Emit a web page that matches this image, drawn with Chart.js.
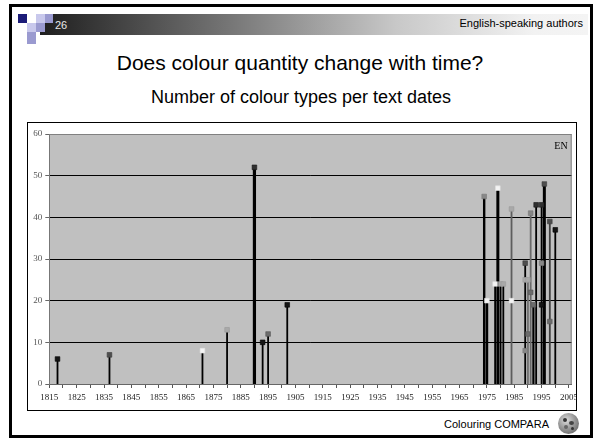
<!DOCTYPE html>
<html><head><meta charset="utf-8">
<script src="https://cdn.jsdelivr.net/npm/chart.js@4.4.1/dist/chart.umd.min.js"></script>
<style>
html,body{margin:0;padding:0;background:#fff;width:597px;height:442px;overflow:hidden;font-family:"Liberation Sans",Arial,sans-serif;}
.abs{position:absolute;}
#frame{left:9px;top:4px;width:578px;height:428px;border:3px solid #000;}
#bar{left:40px;top:14px;width:548px;height:21px;background:linear-gradient(to right,#1e1e1e 0%,#777 35%,#c8c8c8 65%,#f2f2f2 90%,#f4f4f4 100%);}
.sq{position:absolute;width:9px;height:9px;}
#num{left:55px;top:20px;font-size:11px;color:#e8e8e8;line-height:11px;}
#auth{right:14px;top:18px;font-size:11px;color:#000;line-height:11px;}
#title{left:0;width:600px;top:52px;text-align:center;font-size:21px;line-height:21px;color:#000;}
#sub{left:0;width:602px;top:88px;text-align:center;font-size:18px;line-height:18px;color:#000;}
#box{left:27px;top:122px;width:548px;height:287px;border:1px solid #000;background:#fff;}
#foot{right:48px;top:419px;font-size:11px;line-height:11px;color:#000;}
#logo{left:558px;top:413px;width:21px;height:21px;border-radius:50%;background:radial-gradient(circle at 40% 35%,#ddd 0%,#999 45%,#555 100%);}
.dot{position:absolute;border-radius:50%;background:#333;}
</style></head>
<body>
<div id="frame" class="abs"></div>
<div id="bar" class="abs"></div>
<div class="sq" style="left:18px;top:14px;background:#1b1b78"></div>
<div class="sq" style="left:36px;top:14px;background:#c8c8ec"></div>
<div class="sq" style="left:45px;top:14px;width:8px;background:#9a9ad0"></div>
<div class="sq" style="left:27px;top:23px;background:#c8c8ec"></div>
<div class="sq" style="left:36px;top:23px;background:#9a9ad0"></div>
<div class="sq" style="left:27px;top:32px;height:12px;background:#9a9ad0"></div>
<div id="num" class="abs">26</div>
<div id="auth" class="abs">English-speaking authors</div>
<div id="title" class="abs">Does colour quantity change with time?</div>
<div id="sub" class="abs">Number of colour types per text dates</div>
<div id="box" class="abs"><canvas id="c" width="548" height="287"></canvas></div>
<div id="foot" class="abs">Colouring COMPARA</div>
<div id="logo" class="abs">
  <div class="dot" style="left:5px;top:5px;width:4px;height:4px"></div>
  <div class="dot" style="left:11px;top:8px;width:5px;height:4px;background:#444"></div>
  <div class="dot" style="left:6px;top:12px;width:4px;height:4px;background:#666"></div>
  <div class="dot" style="left:13px;top:14px;width:3px;height:3px"></div>
</div>
<script>
// Text dates (x categories)
const years = [1818,1837,1871,1880,1890,1893,1895,1902,1974,1975,1978,1979,1980,1981,1984,1989,1990,1991,1992,1993,1995,1996,1998,2000];
// Number of colour types per text, one series per marker shade
const seriesBlack    = [6,null,null,null,null,10,null,19,null,null,null,null,null,null,null,null,null,null,null,null,19,null,null,37];
const seriesDark     = [null,null,null,null,52,null,null,null,null,null,null,null,null,null,null,null,null,null,null,43,43,null,null,null];
const seriesDarkGrey = [null,7,null,null,null,null,null,null,null,null,null,null,null,null,null,29,null,null,null,null,null,48,39,null];
const seriesGrey     = [null,null,null,null,null,null,12,null,null,null,null,null,null,null,null,null,12,22,19,null,null,null,15,null];
const seriesMidGrey  = [null,null,null,null,null,null,null,null,45,null,null,null,null,null,null,8,null,41,null,null,29,null,null,null];
const seriesLight    = [null,null,null,13,null,null,null,null,null,null,null,null,24,24,42,25,25,null,null,null,null,null,null,null];
const seriesWhite    = [null,null,8,null,null,null,null,null,null,20,24,47,null,null,20,null,null,null,null,null,null,null,null,null];
const yTicks = [0,10,20,30,40,50,60];

const seriesList = [
  {data:seriesBlack, fill:'#141414', edge:'#000'},
  {data:seriesDark, fill:'#303030', edge:'#1a1a1a'},
  {data:seriesDarkGrey, fill:'#4e4e4e', edge:'#3a3a3a'},
  {data:seriesGrey, fill:'#6c6c6c', edge:'#555'},
  {data:seriesMidGrey, fill:'#888', edge:'#777'},
  {data:seriesLight, fill:'#a9a9a9', edge:'#9a9a9a'},
  {data:seriesWhite, fill:'#f4f4f4', edge:'#e0e0e0'}
];
const stemWidth = {1890:3.2,1974:2.4,1975:2.6,1979:3,1996:3,1992:2.2};
const stemColor = {1984:'#5e5e5e',1990:'#707070',1991:'#6a6a6a',1998:'#404040'};

const datasets = [];
seriesList.forEach((s,k)=>{
  datasets.push({
    type:'scatter', order:0,
    data: years.map((yr,i)=> s.data[i]==null?null:{x:yr,y:s.data[i]}).filter(Boolean),
    pointStyle:'rect', pointRadius:3.3, pointHoverRadius:3.3,
    backgroundColor:s.fill, borderColor:s.edge, borderWidth:0.6
  });
});
years.forEach((yr,i)=>{
  const vals = seriesList.map(s=>s.data[i]).filter(v=>v!=null);
  const top = Math.max(...vals);
  datasets.push({
    type:'line', order:5,
    data:[{x:yr,y:0},{x:yr,y:top}],
    borderColor: stemColor[yr]||'#000',
    borderWidth: stemWidth[yr]||1.8,
    pointRadius:0, fill:false, tension:0
  });
});

const bgPlugin = {
  id:'plotbg',
  beforeDraw(chart){
    const a=chart.chartArea, ctx=chart.ctx;
    ctx.save(); ctx.fillStyle='#c0c0c0';
    ctx.fillRect(a.left,a.top,a.right-a.left,a.bottom-a.top); ctx.restore();
  },
  beforeDatasetsDraw(chart){
    const a=chart.chartArea, ctx=chart.ctx;
    ctx.save(); ctx.strokeStyle='#808080'; ctx.lineWidth=1;
    ctx.beginPath();
    ctx.moveTo(a.left,a.top+0.5); ctx.lineTo(a.right-0.5,a.top+0.5); ctx.lineTo(a.right-0.5,a.bottom);
    ctx.stroke();
    ctx.font='10px "Liberation Serif", serif'; ctx.fillStyle='#000';
    ctx.textAlign='right'; ctx.textBaseline='alphabetic';
    ctx.fillText('EN', a.right-4, a.top+15);
    ctx.restore();
  }
};

new Chart(document.getElementById('c'),{
  data:{datasets},
  options:{
    responsive:false, animation:false, devicePixelRatio:1,
    layout:{padding:{left:0,top:11,right:4.3,bottom:0}},
    plugins:{legend:{display:false},tooltip:{enabled:false}},
    scales:{
      x:{type:'linear', min:1815, max:2006,
        afterFit(s){ s.height=26; s.paddingLeft=0; s.paddingRight=0; },
        ticks:{stepSize:5, includeBounds:false, autoSkip:false, maxRotation:0, minRotation:0,
          callback:(v)=> ((v-1815)%10===0 ? String(v) : ''),
          font:{family:'"Liberation Serif", serif', size:9}, color:'#222', padding:4},
        grid:{drawOnChartArea:false, drawTicks:true, tickLength:4, tickColor:'#555', tickWidth:1},
        border:{display:true, color:'#666', width:1}
      },
      y:{type:'linear', min:0, max:60,
        afterFit(s){ s.width=21.3; },
        afterBuildTicks(s){ s.ticks = yTicks.map(v=>({value:v})); },
        ticks:{font:{family:'"Liberation Serif", serif', size:9}, color:'#555', padding:3},
        grid:{color:(c)=> (c.tick && (c.tick.value===0 ? '#666' : c.tick.value===60 ? '#808080' : '#000')), lineWidth:1,
          drawTicks:true, tickLength:4, tickColor:'#666'},
        border:{display:true, color:'#777', width:1}
      }
    }
  },
  plugins:[bgPlugin]
});
</script>
</body></html>
